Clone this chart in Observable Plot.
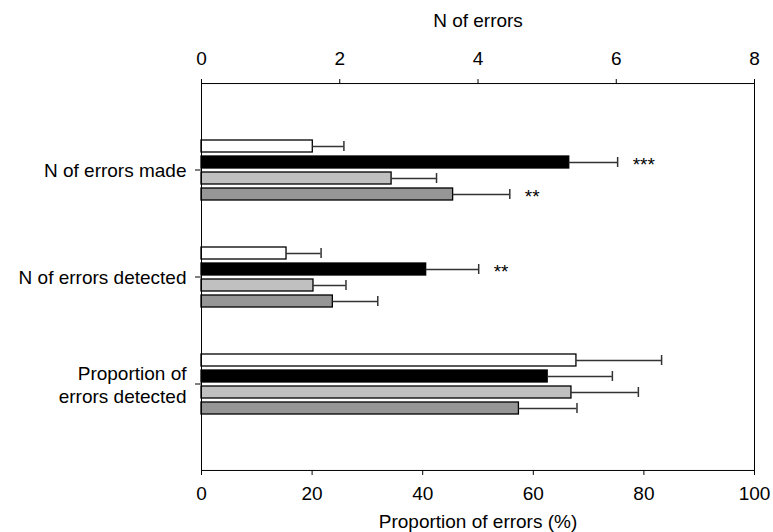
<!DOCTYPE html>
<html><head><meta charset="utf-8">
<script src="https://cdn.jsdelivr.net/npm/d3@7"></script>
<script src="https://cdn.jsdelivr.net/npm/@observablehq/plot@0.6"></script>
<style>body{margin:0;background:#fff}</style>
</head><body><div id="chart"></div>
<script>
// Categories (rows) and their units
const measures = ["N of errors made", "N of errors detected", "Proportion of\nerrors detected"];
const measureUnits = ["count", "count", "percent"];
// Series (bars within each row)
const groups = ["Group 1", "Group 2", "Group 3", "Group 4"];
const groupFills = ["#ffffff", "#000000", "#c0c0c0", "#969696"];
// Values
const madeMean = [1.61, 5.32, 2.75, 3.64];
const madeErr = [0.45, 0.70, 0.65, 0.82];
const madeSig = ["", "***", "", "**"];
const detectedMean = [1.23, 3.25, 1.62, 1.90];
const detectedErr = [0.50, 0.76, 0.47, 0.65];
const detectedSig = ["", "**", "", ""];
const propMean = [67.8, 62.6, 66.9, 57.4];
const propErr = [15.4, 11.7, 12.1, 10.5];
const propSig = ["", "", "", ""];
// Axis ticks
const nTicks = [0, 2, 4, 6, 8];
const pTicks = [0, 20, 40, 60, 80, 100];
const nMax = 8, pMax = 100;

const means = [madeMean, detectedMean, propMean];
const errs = [madeErr, detectedErr, propErr];
const sigs = [madeSig, detectedSig, propSig];

const rows = [];
measures.forEach((m, i) => {
  const k = measureUnits[i] === "count" ? pMax / nMax : 1;
  groups.forEach((g, j) => {
    rows.push({measure: m, group: g, value: means[i][j] * k, hi: (means[i][j] + errs[i][j]) * k, sig: sigs[i][j]});
  });
});

// layout
const W = 773, H = 532, mt = 83, mb = 62, ml = 201, mr = 19;
const fyPad = 0.308;
const fyStep = (H - mt - mb) / (measures.length + 2 * fyPad);
const edgeGap = fyPad * fyStep; // distance from outer facets to the plot frame

const chart = Plot.plot({
  width: W, height: H,
  marginLeft: ml, marginRight: mr, marginTop: mt, marginBottom: mb,
  style: {fontFamily: "'Liberation Sans', Arial, sans-serif", fontSize: "19px", color: "#000", background: "#fff"},
  x: {domain: [0, pMax]},
  y: {domain: groups, paddingInner: 0.25, paddingOuter: 1.45, axis: null},
  fy: {domain: measures, paddingInner: 0, paddingOuter: fyPad, label: null},
  color: {domain: groups, range: groupFills},
  marks: [
    Plot.barX(rows, {fy: "measure", y: "group", x: "value", fill: "group", stroke: "#000", strokeWidth: 1.3}),
    Plot.ruleY(rows, {fy: "measure", y: "group", x1: "value", x2: "hi", stroke: "#333", strokeWidth: 1.5}),
    Plot.tickX(rows, {fy: "measure", y: "group", x: "hi", stroke: "#333", strokeWidth: 1.5, insetTop: 1, insetBottom: 1}),
    Plot.text(rows, {fy: "measure", y: "group", x: "hi", text: "sig", textAnchor: "start", dx: 15, dy: 2, fontSize: 19, letterSpacing: 1.5}),
    Plot.frame({facet: "super", stroke: "#000", insetTop: -edgeGap, insetBottom: -edgeGap}),
    Plot.axisX({anchor: "bottom", dy: edgeGap, ticks: pTicks, tickSize: 5, tickPadding: 11, label: "Proportion of errors (%)", labelArrow: "none", labelAnchor: "center", labelOffset: 90}),
    Plot.axisX({anchor: "top", dy: -edgeGap, ticks: nTicks.map(n => n * pMax / nMax), tickFormat: d => d * nMax / pMax, tickSize: 5, tickPadding: 14, label: "N of errors", labelArrow: "none", labelAnchor: "center", labelOffset: 103}),
    Plot.axisFy({anchor: "left", tickSize: 6, tickPadding: 9, label: null, lineHeight: 1.2})
  ]
});
document.getElementById("chart").appendChild(chart);
</script>
</body></html>
